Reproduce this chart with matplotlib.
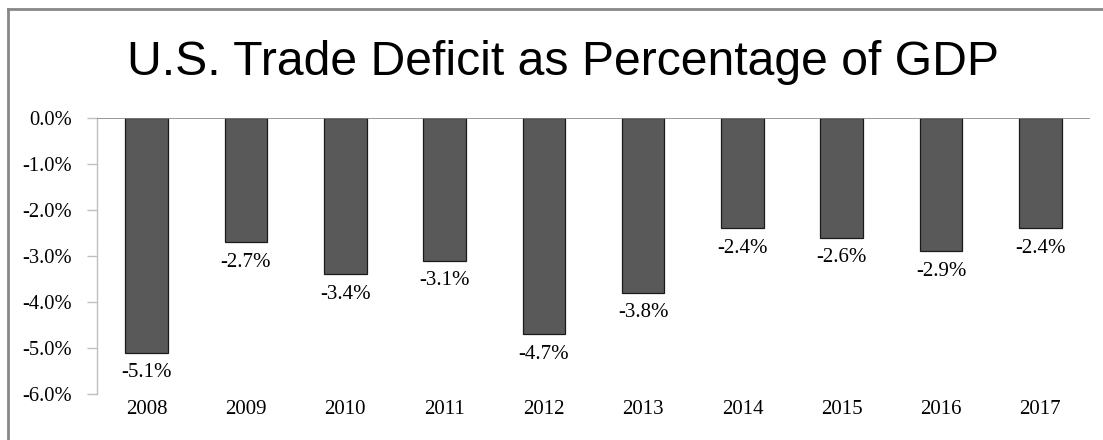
import numpy as np
import matplotlib.pyplot as plt
from matplotlib.lines import Line2D

years = ['2008', '2009', '2010', '2011', '2012', '2013', '2014', '2015', '2016', '2017']
deficit_pct = [-5.1, -2.7, -3.4, -3.1, -4.7, -3.8, -2.4, -2.6, -2.9, -2.4]
y_ticks = [0, -1, -2, -3, -4, -5, -6]

serif = 'Liberation Serif'

fig = plt.figure(figsize=(11.03, 4.40), dpi=100)
ax = fig.add_axes([97 / 1103, 1 - 394 / 440, (1090 - 97) / 1103, (394 - 118) / 440])

x = np.arange(len(years))
bars = ax.bar(x, deficit_pct, width=0.43, color='#595959', edgecolor='#1a1a1a', linewidth=0.9, zorder=3)

ax.set_xlim(-0.5, len(years) - 0.5)
ax.set_ylim(-6, 0)
ax.set_yticks(y_ticks)
ax.set_yticklabels([f'{v:.1f}%' for v in y_ticks], fontsize=14.8, family=serif)
ax.set_xticks(x)
ax.set_xticklabels(years, fontsize=15, family=serif)
ax.tick_params(axis='x', length=0, pad=4)
ax.tick_params(axis='y', length=7, width=1, color='#bfbfbf', pad=11)

for side in ['right', 'bottom', 'top']:
    ax.spines[side].set_visible(False)
ax.spines['left'].set_color('#bfbfbf')
ax.spines['left'].set_linewidth(1)
ax.axhline(0, color='#868686', linewidth=1.2, zorder=4)

for bar, val in zip(bars, deficit_pct):
    ax.annotate(f'{val:.1f}%', xy=(bar.get_x() + bar.get_width() / 2, val),
                xytext=(0, -20), textcoords='offset pixels',
                ha='center', va='center', fontsize=15, family=serif)

fig.text(563 / 1103, 1 - 75 / 440, 'U.S. Trade Deficit as Percentage of GDP',
         ha='center', va='baseline', fontsize=34.7, family='Liberation Sans')

# chart frame
fig.add_artist(Line2D([7.5 / 1103, 7.5 / 1103], [0, 1 - 9.5 / 440], transform=fig.transFigure,
                      color='#878787', linewidth=2))
fig.add_artist(Line2D([7.5 / 1103, 1], [1 - 9.5 / 440, 1 - 9.5 / 440], transform=fig.transFigure,
                      color='#878787', linewidth=2))

fig.savefig('out.png', dpi=100)
